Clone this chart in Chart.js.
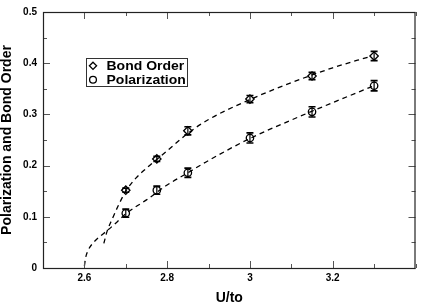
<!DOCTYPE html>
<html>
<head>
<meta charset="utf-8">
<script src="https://cdn.jsdelivr.net/npm/chart.js@4.4.1/dist/chart.umd.min.js"></script>
<style>
html,body{margin:0;padding:0;background:#fff;}
#wrap{width:421px;height:305px;position:relative;}
</style>
</head>
<body>
<div id="wrap"><canvas id="c" width="421" height="305"></canvas></div>
<script>
// ---- data ----
const uValues = [2.7, 2.775, 2.85, 3.0, 3.15, 3.3];
const bondOrder = [0.152, 0.213, 0.268, 0.330, 0.375, 0.414];
const bondOrderErr = [0.004, 0.005, 0.008, 0.007, 0.007, 0.009];
const polarization = [0.107, 0.152, 0.186, 0.254, 0.305, 0.356];
const polarizationErr = [0.008, 0.008, 0.009, 0.010, 0.010, 0.010];

// dashed fit curves
const bondFitX = [2.647, 2.655, 2.668, 2.682, 2.7, 2.725, 2.75, 2.8, 2.85, 2.9, 3.0, 3.1, 3.2, 3.29];
const bondFitY = [0.048, 0.072, 0.097, 0.122, 0.150, 0.176, 0.195, 0.229, 0.263, 0.290, 0.329, 0.362, 0.391, 0.413];
const polFitX = [2.6, 2.603, 2.61, 2.62, 2.635, 2.655, 2.679, 2.7, 2.75, 2.8, 2.85, 2.9, 3.0, 3.1, 3.2, 3.3];
const polFitY = [0.004, 0.02, 0.036, 0.048, 0.06, 0.073, 0.09, 0.106, 0.133, 0.162, 0.186, 0.21, 0.253, 0.289, 0.323, 0.356];

const xTickLabels = ['2.6', '2.8', '3', '3.2'];
const yTickLabels = ['0', '0.1', '0.2', '0.3', '0.4', '0.5'];
const legendLabels = ['Bond Order', 'Polarization'];
const xTitle = 'U/to';
const yTitle = 'Polarization and Bond Order';

const FONT = '"Liberation Sans", Arial, Helvetica, sans-serif';

function pts(xs, ys) { return xs.map((x, i) => ({x: x, y: ys[i]})); }

const errorBarPlugin = {
  id: 'errbars',
  afterDatasetsDraw(chart) {
    const ctx = chart.ctx, xs = chart.scales.x, ys = chart.scales.y;
    ctx.save();
    ctx.strokeStyle = '#000';
    const sets = [[bondOrder, bondOrderErr], [polarization, polarizationErr]];
    sets.forEach(([vals, errs]) => {
      uValues.forEach((u, i) => {
        const px = xs.getPixelForValue(u);
        const y1 = ys.getPixelForValue(vals[i] + errs[i]);
        const y2 = ys.getPixelForValue(vals[i] - errs[i]);
        ctx.lineWidth = 1.2;
        ctx.beginPath(); ctx.moveTo(px, y1); ctx.lineTo(px, y2); ctx.stroke();
        ctx.lineWidth = 1.6;
        ctx.beginPath();
        ctx.moveTo(px - 3.5, y1); ctx.lineTo(px + 3.5, y1);
        ctx.moveTo(px - 3.5, y2); ctx.lineTo(px + 3.5, y2);
        ctx.stroke();
      });
    });
    ctx.restore();
  }
};

const framePlugin = {
  id: 'frame',
  afterDraw(chart) {
    const ctx = chart.ctx, a = chart.chartArea, xs = chart.scales.x, ys = chart.scales.y;
    ctx.save();
    // tick marks (inward)
    ctx.strokeStyle = '#555';
    ctx.lineWidth = 1;
    ctx.beginPath();
    xs.ticks.forEach(t => {
      const px = Math.round(xs.getPixelForValue(t.value)) + 0.5;
      const major = xTickLabels.includes(String(Math.round(t.value * 10) / 10));
      const len = major ? 7 : 4;
      ctx.moveTo(px, a.bottom); ctx.lineTo(px, a.bottom - len);
      ctx.moveTo(px, a.top); ctx.lineTo(px, a.top + len);
    });
    ys.ticks.forEach(t => {
      const py = Math.round(ys.getPixelForValue(t.value)) + 0.5;
      const major = yTickLabels.includes(String(Math.round(t.value * 100) / 100));
      const len = major ? 7 : 4;
      ctx.moveTo(a.left, py); ctx.lineTo(a.left + len, py);
      ctx.moveTo(a.right, py); ctx.lineTo(a.right - len, py);
    });
    ctx.stroke();
    // frame
    ctx.strokeStyle = '#222';
    ctx.lineWidth = 1.2;
    ctx.strokeRect(a.left + 0.5, a.top + 0.5, a.right - a.left - 1, a.bottom - a.top);
    // legend
    const lx = 86, ly = 58, lw = 101, lh = 28;
    ctx.fillStyle = '#fff';
    ctx.fillRect(lx, ly, lw, lh);
    ctx.strokeStyle = '#333';
    ctx.lineWidth = 1;
    ctx.strokeRect(lx + 0.5, ly + 0.5, lw, lh);
    const rows = [65.8, 79.8];
    ctx.strokeStyle = '#000';
    ctx.lineWidth = 1.3;
    // diamond
    ctx.beginPath();
    ctx.moveTo(93, rows[0] - 3.6); ctx.lineTo(96.6, rows[0]); ctx.lineTo(93, rows[0] + 3.6); ctx.lineTo(89.4, rows[0]); ctx.closePath();
    ctx.stroke();
    // circle
    ctx.beginPath(); ctx.arc(93, rows[1], 3.4, 0, Math.PI * 2); ctx.stroke();
    ctx.fillStyle = '#000';
    ctx.font = 'bold 14px ' + FONT;
    ctx.textBaseline = 'middle';
    ctx.textAlign = 'left';
    legendLabels.forEach((s, i) => {
      ctx.save();
      ctx.translate(106.5, rows[i] + 0.5);
      ctx.scale(1, 0.88);
      ctx.fillText(s, 0, 0);
      ctx.restore();
    });
    ctx.restore();
  }
};

new Chart(document.getElementById('c'), {
  type: 'scatter',
  data: {
    datasets: [
      {
        label: legendLabels[0],
        data: pts(uValues, bondOrder),
        pointStyle: 'rectRot',
        pointRadius: 4.2,
        pointBorderWidth: 1.3,
        borderColor: '#000',
        backgroundColor: 'rgba(0,0,0,0)',
        showLine: false
      },
      {
        label: legendLabels[1],
        data: pts(uValues, polarization),
        pointStyle: 'circle',
        pointRadius: 3.7,
        pointBorderWidth: 1.3,
        borderColor: '#000',
        backgroundColor: 'rgba(0,0,0,0)',
        showLine: false
      },
      {
        label: 'bond fit',
        data: pts(bondFitX, bondFitY),
        showLine: true,
        pointRadius: 0,
        borderColor: '#000',
        borderWidth: 1.3,
        borderDash: [5, 4],
        cubicInterpolationMode: 'monotone',
        fill: false
      },
      {
        label: 'pol fit',
        data: pts(polFitX, polFitY),
        showLine: true,
        pointRadius: 0,
        borderColor: '#000',
        borderWidth: 1.3,
        borderDash: [5, 4],
        cubicInterpolationMode: 'monotone',
        fill: false
      }
    ]
  },
  options: {
    responsive: false,
    animation: false,
    events: [],
    layout: {padding: {top: 5, right: 1, left: 0, bottom: 0}},
    plugins: {legend: {display: false}, tooltip: {enabled: false}},
    scales: {
      x: {
        type: 'linear',
        min: 2.5, max: 3.4,
        afterFit(s) { s.height = 37; },
        grid: {display: false, drawTicks: false},
        border: {display: false},
        ticks: {
          stepSize: 0.1,
          padding: 4,
          color: '#000',
          font: {family: FONT, size: 10, weight: 'bold'},
          maxRotation: 0,
          autoSkip: false,
          callback(v) {
            const s = String(Math.round(v * 10) / 10);
            return xTickLabels.includes(s) ? s : '';
          }
        },
        title: {
          display: true, text: xTitle, color: '#000',
          font: {family: FONT, size: 14, weight: 'bold', lineHeight: 1},
          padding: {top: 0, bottom: 0}
        }
      },
      y: {
        type: 'linear',
        min: 0, max: 0.5,
        afterFit(s) { s.width = 43; },
        grid: {display: false, drawTicks: false},
        border: {display: false},
        ticks: {
          stepSize: 0.05,
          padding: 6,
          color: '#000',
          font: {family: FONT, size: 10, weight: 'bold'},
          autoSkip: false,
          callback(v) {
            const s = String(Math.round(v * 100) / 100);
            return yTickLabels.includes(s) ? s : '';
          }
        },
        title: {
          display: true, text: yTitle, color: '#000',
          font: {family: FONT, size: 14, weight: 'bold', lineHeight: 1},
          padding: {top: 0, bottom: 0}
        }
      }
    }
  },
  plugins: [errorBarPlugin, framePlugin]
});
</script>
</body>
</html>
